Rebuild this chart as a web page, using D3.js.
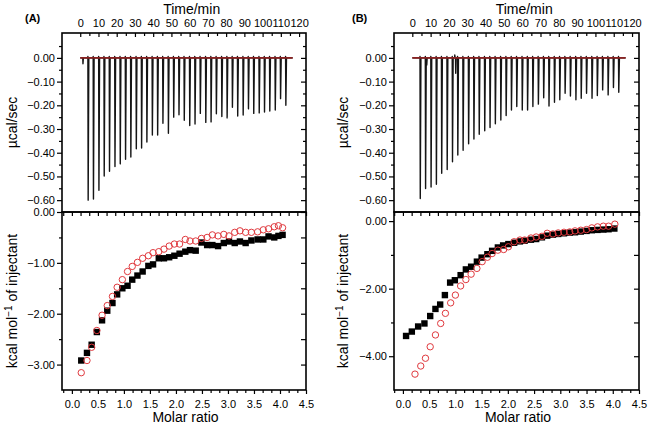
<!DOCTYPE html>
<html><head><meta charset="utf-8">
<script src="https://cdn.jsdelivr.net/npm/d3@7"></script>
<style>
body{margin:0;background:#fff}
svg{display:block;font-family:"Liberation Sans",Arial,Helvetica,sans-serif}
</style>
</head><body>
<svg id="c" width="648" height="425"></svg>
<script>
// ---------------- DATA ----------------
// injection times (min), shared by both runs
const injTimes = [4.2,7.1,10.1,13.0,15.9,18.9,21.8,24.7,27.6,30.6,33.5,36.4,39.4,42.3,45.2,48.2,51.1,54.0,56.9,59.9,
                  62.8,65.7,68.7,71.6,74.5,77.5,80.4,83.3,86.2,89.2,92.1,95.0,98.0,100.9,103.8,106.8,109.7,112.6];
// peak heat rate of each injection (µcal/sec)
const peakA = [-0.600,-0.595,-0.558,-0.498,-0.478,-0.458,-0.447,-0.428,-0.418,-0.383,
               -0.380,-0.355,-0.325,-0.325,-0.276,-0.318,-0.250,-0.240,-0.263,-0.285,
               -0.279,-0.234,-0.272,-0.270,-0.236,-0.247,-0.253,-0.208,-0.245,-0.241,
               -0.215,-0.234,-0.232,-0.228,-0.224,-0.220,-0.172,-0.200];
const peakB = [-0.593,-0.551,-0.545,-0.533,-0.487,-0.471,-0.438,-0.410,-0.390,-0.362,
               -0.342,-0.322,-0.307,-0.294,-0.278,-0.262,-0.243,-0.220,-0.205,-0.220,
               -0.220,-0.205,-0.195,-0.168,-0.203,-0.187,-0.177,-0.149,-0.161,-0.177,
               -0.170,-0.149,-0.170,-0.159,-0.135,-0.156,-0.125,-0.145];
// small extra events in the raw traces: [time, value]
const extraA = [[1.5,-0.025]];
const extraB = [[7.9,-0.030],[23.2,0.012],[23.7,-0.065]];
const baselineEnd = 116.5;

// integrated heats (kcal/mol of injectant)
const ratioA = [0.18,0.29,0.38,0.48,0.58,0.68,0.78,0.87,0.97,1.07,1.16,1.26,1.36,1.47,1.56,1.67,1.77,1.87,1.97,2.07,
                2.18,2.27,2.38,2.49,2.60,2.70,2.81,2.92,3.02,3.13,3.23,3.34,3.45,3.57,3.68,3.78,3.89,3.97,4.05];
const squaresA = [-2.92,-2.77,-2.61,-2.36,-2.13,-1.94,-1.79,-1.62,-1.50,-1.45,
                  -1.33,-1.25,-1.17,-1.06,-1.03,-0.91,-0.91,-0.89,-0.86,-0.82,
                  -0.78,-0.75,-0.76,-0.60,-0.65,-0.65,-0.67,-0.61,-0.58,-0.61,
                  -0.58,-0.61,-0.56,-0.54,-0.54,-0.48,-0.50,-0.47,-0.45];
const circlesA = [-3.16,-2.92,-2.66,-2.33,-2.03,-1.84,-1.66,-1.48,-1.33,-1.17,
                  -1.07,-0.99,-0.91,-0.86,-0.80,-0.78,-0.73,-0.67,-0.63,-0.63,
                  -0.54,-0.57,-0.57,-0.52,-0.50,-0.45,-0.47,-0.44,-0.47,-0.40,
                  -0.37,-0.40,-0.40,-0.39,-0.35,-0.33,-0.29,-0.27,-0.31];
const ratioBsq = [0.06,0.17,0.29,0.41,0.52,0.62,0.71,0.80,0.90,0.99,1.10,1.20,1.30,1.41,1.50,1.61,1.70,1.81,1.91,2.01,
                  2.12,2.23,2.32,2.44,2.54,2.65,2.75,2.86,2.96,3.07,3.18,3.28,3.39,3.50,3.60,3.71,3.82,3.92,4.03];
const squaresB = [-3.40,-3.27,-3.12,-3.03,-2.81,-2.60,-2.47,-2.19,-1.82,-1.75,
                  -1.60,-1.43,-1.35,-1.20,-1.08,-0.98,-0.88,-0.78,-0.72,-0.68,
                  -0.64,-0.60,-0.58,-0.55,-0.53,-0.48,-0.43,-0.40,-0.38,-0.36,
                  -0.34,-0.33,-0.31,-0.29,-0.27,-0.26,-0.25,-0.24,-0.22];
const ratioBci = [0.23,0.34,0.43,0.52,0.62,0.72,0.81,0.91,1.00,1.10,1.20,1.30,1.41,1.51,1.61,1.70,1.81,1.92,2.01,2.12,
                  2.23,2.32,2.44,2.54,2.65,2.75,2.86,2.96,3.07,3.18,3.28,3.39,3.50,3.60,3.71,3.82,3.92,4.04];
const circlesB = [-4.53,-4.29,-4.06,-3.72,-3.37,-3.03,-2.73,-2.42,-2.19,-1.92,
                  -1.73,-1.57,-1.40,-1.20,-1.07,-0.96,-0.86,-0.84,-0.76,-0.61,
                  -0.56,-0.56,-0.50,-0.47,-0.45,-0.36,-0.38,-0.35,-0.33,-0.32,
                  -0.29,-0.27,-0.25,-0.20,-0.17,-0.15,-0.15,-0.09];

// tick labels
const timeTicks = [0,10,20,30,40,50,60,70,80,90,100,110,120];
const rawTicks = [0,-0.1,-0.2,-0.3,-0.4,-0.5,-0.6];
const ratioTicks = [0,0.5,1,1.5,2,2.5,3,3.5,4,4.5];
const heatTicksA = [0,-1,-2,-3];
const heatTicksB = [0,-2,-4];

// ---------------- DRAW ----------------
const svg = d3.select("#c");
const TOP = 33, MID = 212, BOT = 390;
const red = "#e0393e";

const panels = [
  {x0:62, x1:306, tag:"(A)", tagX:25, titleX:17, times:injTimes, peaks:peakA, extra:extraA,
   heatDomain:[-3.5,0], heatTicks:heatTicksA, heatMinor:[-0.5,-1.5,-2.5],
   ratioDomain:[-0.19,4.5], sq:[ratioA,squaresA], ci:[ratioA,circlesA]},
  {x0:394, x1:639, tag:"(B)", tagX:352, titleX:348, times:injTimes, peaks:peakB, extra:extraB,
   heatDomain:[-5,0.27], heatTicks:heatTicksB, heatMinor:[-1,-3,-5],
   ratioDomain:[-0.17,4.5], sq:[ratioBsq,squaresB], ci:[ratioBci,circlesB]}
];

const fmt2 = d => d === 0 ? "0.00" : d3.format(".2f")(d);
const fmt1 = d3.format(".1f");

function styleAxis(g, fs){
  g.select(".domain").remove();
  g.selectAll("line").attr("stroke","#000").attr("stroke-width",1.2);
  g.selectAll("text").attr("font-size",fs).attr("fill","#000")
   .attr("font-family",'"Liberation Sans",Arial,sans-serif');
  g.attr("font-family",null).attr("font-size",null);
}

panels.forEach(p => {
  const W = p.x1 - p.x0;
  const xT = d3.scaleLinear([-10, 123.8], [p.x0, p.x1]);
  const yR = d3.scaleLinear([-0.65, 0.105], [MID, TOP]);
  const xM = d3.scaleLinear(p.ratioDomain, [p.x0, p.x1]);
  const yH = d3.scaleLinear(p.heatDomain, [BOT, MID]);

  // ---- raw trace ----
  let pts = [[0,0]];
  p.times.forEach((t,i) => {
    pts.push([t-0.1,0],[t,0.006],[t+0.15,p.peaks[i]],[t+0.5,0]);
  });
  p.extra.forEach(([t,v]) => pts.push([t-0.1,0],[t,v],[t+0.2,0]));
  pts.push([baselineEnd,0]);
  pts.sort((a,b)=>a[0]-b[0]);
  const line = d3.line().x(d=>xT(d[0])).y(d=>yR(d[1]));
  svg.append("path").attr("d", line(pts)).attr("fill","none")
     .attr("stroke","#151515").attr("stroke-width",1.4).attr("stroke-linejoin","round");
  svg.append("path").attr("d", line([[0,0],[baselineEnd,0]])).attr("fill","none")
     .attr("stroke","#8a2222").attr("stroke-width",1.6);

  // ---- integrated heats ----
  const s = 6.4;
  svg.append("g").selectAll("rect").data(p.sq[0].map((r,i)=>[r,p.sq[1][i]])).join("rect")
     .attr("x", d=>xM(d[0])-s/2).attr("y", d=>yH(d[1])-s/2)
     .attr("width", s).attr("height", s).attr("fill","#000");
  svg.append("g").selectAll("circle").data(p.ci[0].map((r,i)=>[r,p.ci[1][i]])).join("circle")
     .attr("cx", d=>xM(d[0])).attr("cy", d=>yH(d[1])).attr("r",3.2)
     .attr("fill","none").attr("stroke",red).attr("stroke-width",1);

  // ---- frames ----
  svg.append("rect").attr("x",p.x0).attr("y",TOP).attr("width",W).attr("height",MID-TOP)
     .attr("fill","none").attr("stroke","#000").attr("stroke-width",1.6);
  svg.append("rect").attr("x",p.x0).attr("y",MID).attr("width",W).attr("height",BOT-MID)
     .attr("fill","none").attr("stroke","#000").attr("stroke-width",1.6);

  // ---- top panel axes ----
  const rawMinor = [0.05,-0.05,-0.15,-0.25,-0.35,-0.45,-0.55];
  const timeMinor = [5,15,25,35,45,55,65,75,85,95,105,115];
  let g;
  g = svg.append("g").attr("transform",`translate(${p.x0},0)`)
     .call(d3.axisLeft(yR).tickValues(rawTicks).tickSize(5).tickPadding(2).tickFormat(fmt2));
  styleAxis(g,11);
  g = svg.append("g").attr("transform",`translate(${p.x0},0)`)
     .call(d3.axisLeft(yR).tickValues(rawMinor).tickSize(3).tickFormat(""));
  styleAxis(g,11);
  g = svg.append("g").attr("transform",`translate(${p.x1},0)`)
     .call(d3.axisRight(yR).tickValues(rawTicks).tickSize(-5).tickFormat(""));
  styleAxis(g,11);
  g = svg.append("g").attr("transform",`translate(${p.x1},0)`)
     .call(d3.axisRight(yR).tickValues(rawMinor).tickSize(-3).tickFormat(""));
  styleAxis(g,11);
  g = svg.append("g").attr("transform",`translate(0,${TOP})`)
     .call(d3.axisTop(xT).tickValues(timeTicks).tickSize(-4).tickPadding(6).tickFormat(d3.format("d")));
  styleAxis(g,11);
  g = svg.append("g").attr("transform",`translate(0,${TOP})`)
     .call(d3.axisTop(xT).tickValues(timeMinor).tickSize(-3).tickFormat(""));
  styleAxis(g,11);

  // ---- bottom panel axes ----
  const ratioMinor = d3.range(-1, 28).map(k => k/6).filter(v => v > p.ratioDomain[0] && v < 4.5 && Math.abs(v*2 - Math.round(v*2)) > 1e-6);
  const heatMinor = p.heatMinor.filter(v => v > p.heatDomain[0]);
  g = svg.append("g").attr("transform",`translate(${p.x0},0)`)
     .call(d3.axisLeft(yH).tickValues(p.heatTicks).tickSize(5).tickPadding(2).tickFormat(fmt2));
  styleAxis(g,11);
  g = svg.append("g").attr("transform",`translate(${p.x0},0)`)
     .call(d3.axisLeft(yH).tickValues(heatMinor).tickSize(3).tickFormat(""));
  styleAxis(g,11);
  g = svg.append("g").attr("transform",`translate(${p.x1},0)`)
     .call(d3.axisRight(yH).tickValues(p.heatTicks.concat(heatMinor)).tickSize(-5).tickFormat(""));
  styleAxis(g,11);
  g = svg.append("g").attr("transform",`translate(0,${BOT})`)
     .call(d3.axisBottom(xM).tickValues(ratioTicks).tickSize(4).tickPadding(6).tickFormat(fmt1));
  styleAxis(g,11);
  g = svg.append("g").attr("transform",`translate(0,${BOT})`)
     .call(d3.axisBottom(xM).tickValues(ratioMinor).tickSize(3).tickFormat(""));
  styleAxis(g,11);
  g = svg.append("g").attr("transform",`translate(0,${MID})`)
     .call(d3.axisTop(xM).tickValues(ratioTicks.concat(ratioMinor)).tickSize(-4).tickFormat(""));
  styleAxis(g,11);

  // ---- titles ----
  svg.append("text").attr("x",(xT(0)+xT(120))/2 + 2).attr("y",14).attr("text-anchor","middle")
     .attr("font-size",14).text("Time/min");
  svg.append("text").attr("x",(p.x0+p.x1)/2 + 1.5).attr("y",422).attr("text-anchor","middle")
     .attr("font-size",14).text("Molar ratio");
  svg.append("text").attr("x",p.tagX).attr("y",22).attr("font-size",11).attr("font-weight","bold").text(p.tag);
  svg.append("text").attr("transform",`translate(${p.titleX},${(TOP+MID)/2}) rotate(-90)`)
     .attr("text-anchor","middle").attr("font-size",14).text("µcal/sec");
  const t = svg.append("text").attr("transform",`translate(${p.titleX},${(MID+BOT)/2}) rotate(-90)`)
     .attr("text-anchor","middle").attr("font-size",14);
  t.append("tspan").text("kcal mol");
  t.append("tspan").attr("dy",-5).attr("font-size",10).text("−1");
  t.append("tspan").attr("dy",5).text(" of injectant");
});
</script>
</body></html>
